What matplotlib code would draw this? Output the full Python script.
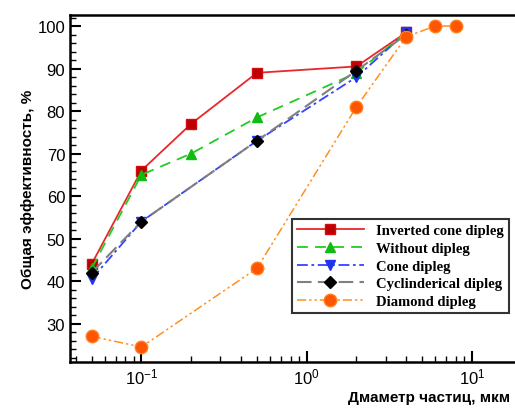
import matplotlib
matplotlib.use("Agg")
import matplotlib.pyplot as plt
from matplotlib.ticker import LogLocator, MultipleLocator, LogFormatterMathtext

# data
x_main = [0.05, 0.1, 0.2, 0.5, 2, 4]
inverted_cone = [44, 66, 77, 89, 90.5, 98.5]
without_dipleg = [43, 65, 70, 78.5, 89, 98.5]
x_short = [0.05, 0.1, 0.5, 2, 4]
cone = [40.5, 54, 73, 88, 98.5]
cylindrical = [42, 54, 73, 89.5, 98]
x_diamond = [0.05, 0.1, 0.5, 2, 4, 6, 8]
diamond = [27, 24.5, 43, 81, 97.5, 100, 100]

labels = ["Inverted cone dipleg", "Without dipleg", "Cone dipleg",
          "Cyclinderical dipleg", "Diamond dipleg"]

plt.rcParams['font.family'] = ['Liberation Sans', 'DejaVu Sans']
plt.rcParams['mathtext.default'] = 'regular'

fig = plt.figure(figsize=(5.15, 4.1), dpi=100)
ax = fig.add_axes([0.136, 0.115, 0.87, 0.846])

ax.plot(x_main, inverted_cone, color='#e8282c', lw=1.3, marker='s', ms=7,
        mfc='#c00000', mec='#d01010', label=labels[0])
ax.plot(x_main, without_dipleg, color='#22cc22', lw=1.3, ls=(0, (6, 4)),
        marker='^', ms=7, mfc='#11bb11', mec='#11bb11', label=labels[1])
ax.plot(x_short, cone, color='#3344ff', lw=1.3, ls=(0, (6, 2, 1.5, 2)),
        marker='v', ms=7, mfc='#2233ee', mec='#2233ee', label=labels[2])
ax.plot(x_short, cylindrical, color='#808080', lw=1.5, ls=(0, (7, 3)),
        marker='D', ms=6, mfc='black', mec='black', label=labels[3])
ax.plot(x_diamond, diamond, color='#ff9020', lw=1.1, ls=(0, (6, 2, 1.5, 2, 1.5, 2)),
        marker='o', ms=9, mfc='#ff5500', mec='#ff8020', label=labels[4])

ax.set_xscale('log')
ax.set_xlim(0.037, 19)
ax.set_ylim(21, 102.6)
ax.yaxis.set_major_locator(MultipleLocator(10))
ax.yaxis.set_minor_locator(MultipleLocator(2))
ax.set_yticks([30, 40, 50, 60, 70, 80, 90, 100])
ax.xaxis.set_major_locator(LogLocator(base=10))
ax.xaxis.set_minor_locator(LogLocator(base=10, subs=range(2, 10)))
ax.xaxis.set_major_formatter(LogFormatterMathtext())

ax.tick_params(which='both', direction='in', top=False, right=False)
ax.tick_params(which='major', length=8, width=1.5, labelsize=12)
ax.tick_params(which='minor', length=4, width=1)
for s in ax.spines.values():
    s.set_linewidth(1.8)
ax.spines['right'].set_visible(False)

ax.set_ylabel("Общая эффективность, %", fontsize=11, fontweight='bold', labelpad=2)
fig.text(0.99, 0.03, "Дмаметр частиц, мкм", ha='right', va='center',
         fontsize=11, fontweight='bold')

leg = ax.legend(loc='lower right', bbox_to_anchor=(0.995, 0.12),
                prop={'family': 'Liberation Serif', 'weight': 'bold', 'size': 10.5},
                frameon=True, fancybox=False, edgecolor='black',
                handlelength=4.6, borderpad=0.35, labelspacing=0.3)
leg.get_frame().set_linewidth(1.5)

fig.savefig("out.png", dpi=100)
